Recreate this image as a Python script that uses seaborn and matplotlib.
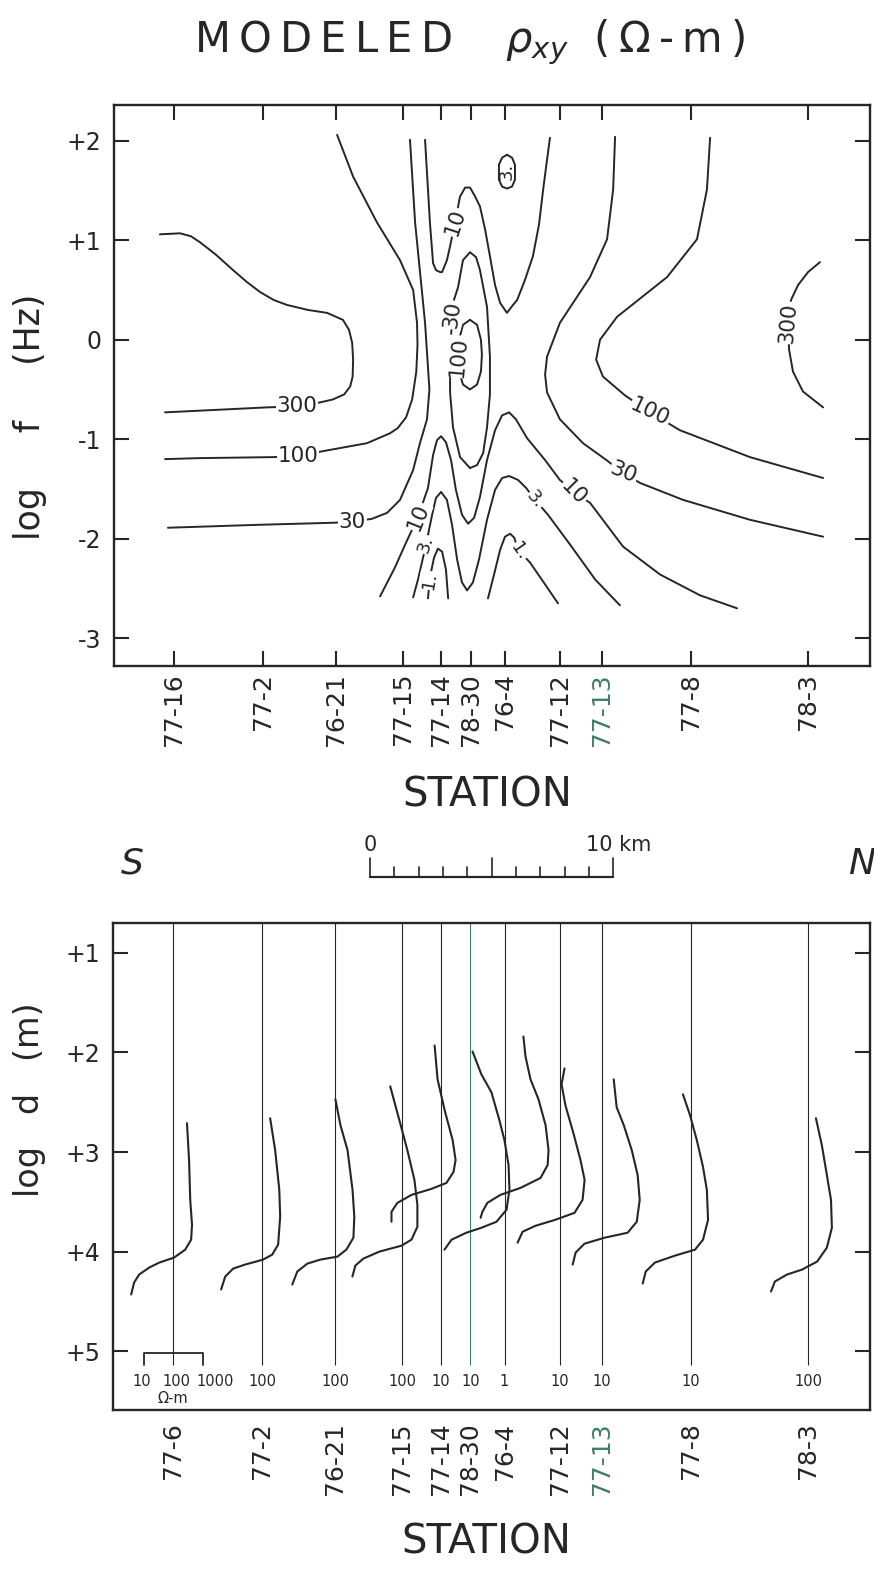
import numpy as np
import pandas as pd
import matplotlib
matplotlib.use("Agg")
import matplotlib.pyplot as plt
import matplotlib.transforms as mtransforms
import seaborn as sns

sns.set_style("ticks")
plt.rcParams["font.family"] = ["DejaVu Sans"]
plt.rcParams["mathtext.fontset"] = "dejavusans"

INK = "#262626"
GREEN = "#3f7f64"

# ---------------------------------------------------------------- stations
station_km = [0.0, 3.66, 6.67, 9.42, 10.99, 12.22, 13.62, 15.88, 17.61, 21.28, 26.09]
stations_top = ["77-16", "77-2", "76-21", "77-15", "77-14", "78-30", "76-4",
                "77-12", "77-13", "77-8", "78-3"]
stations_bottom = ["77-6", "77-2", "76-21", "77-15", "77-14", "78-30", "76-4",
                   "77-12", "77-13", "77-8", "78-3"]
green_station = "77-13"

# ---------------------------------------------- modeled rho_xy contours
# (distance km, log f Hz)
rho300_west = [(-0.58, 1.06), (0.25, 1.07), (0.70, 1.04), (1.07, 0.98), (1.70, 0.86),
               (2.43, 0.70), (3.00, 0.58), (3.54, 0.48), (4.10, 0.40), (4.65, 0.35),
               (5.50, 0.30), (6.30, 0.27), (6.95, 0.20), (7.20, 0.10), (7.33, -0.03),
               (7.37, -0.20), (7.35, -0.37), (7.25, -0.47), (7.00, -0.55), (6.54, -0.60),
               (6.01, -0.63), (5.06, -0.67), (3.83, -0.68), (-0.37, -0.73)]
rho100_west = [(6.71, 2.06), (7.37, 1.64), (8.35, 1.18), (9.30, 0.80), (9.84, 0.50),
               (10.00, 0.17), (10.02, -0.05), (9.97, -0.32), (9.80, -0.60), (9.55, -0.78),
               (9.20, -0.89), (8.89, -0.94), (7.94, -1.04), (6.13, -1.12), (5.10, -1.17),
               (4.07, -1.18), (1.07, -1.19), (-0.37, -1.20)]
rho30_west = [(9.71, 2.01), (9.92, 1.18), (10.33, 0.17), (10.51, -0.50), (10.41, -0.80),
              (10.12, -1.04), (9.84, -1.31), (9.30, -1.61), (8.77, -1.74), (8.15, -1.80),
              (7.33, -1.83), (6.54, -1.84), (3.54, -1.86), (-0.25, -1.89)]
rho10_north = [(10.33, 2.01), (10.53, 1.18), (10.66, 0.77), (10.78, 0.70), (10.95, 0.68),
               (11.03, 0.68), (11.23, 0.80), (11.36, 0.94), (11.56, 1.18), (11.77, 1.44),
               (11.98, 1.53), (12.18, 1.53), (12.39, 1.44), (12.59, 1.34), (12.80, 1.11),
               (13.00, 0.84), (13.21, 0.55), (13.42, 0.37), (13.70, 0.27), (13.95, 0.35),
               (14.12, 0.40), (14.44, 0.60), (14.77, 0.84), (15.02, 1.16), (15.19, 1.51),
               (15.35, 1.81), (15.47, 2.03)]
rho30_core = [(12.18, -1.29), (11.77, -1.18), (11.48, -0.88), (11.36, -0.53), (11.36, -0.20),
              (11.40, 0.05), (11.52, 0.40), (11.69, 0.53), (11.89, 0.80), (12.18, 0.88),
              (12.43, 0.83), (12.59, 0.70), (12.88, 0.33), (13.00, -0.17), (13.00, -0.55),
              (12.88, -0.88), (12.72, -1.14), (12.47, -1.26), (12.18, -1.29)]
rho100_core = [(12.18, 0.20), (12.47, 0.15), (12.63, 0.00), (12.67, -0.15), (12.63, -0.32),
               (12.47, -0.45), (12.18, -0.50), (11.89, -0.45), (11.73, -0.32), (11.69, -0.15),
               (11.73, 0.00), (11.89, 0.15), (12.18, 0.20)]
rho3_north = [(13.70, 1.86), (13.91, 1.83), (14.03, 1.76), (14.03, 1.61), (13.91, 1.54),
              (13.70, 1.52), (13.50, 1.54), (13.37, 1.61), (13.37, 1.76), (13.50, 1.83),
              (13.70, 1.86)]
rho10_south = [(8.48, -2.58), (9.09, -2.29), (9.51, -2.06), (10.04, -1.78), (10.45, -1.49),
               (10.66, -1.16), (10.82, -1.01), (10.99, -0.97), (11.19, -1.03), (11.40, -1.21),
               (11.60, -1.51), (11.85, -1.76), (12.10, -1.85), (12.35, -1.79), (12.59, -1.58),
               (12.88, -1.21), (13.21, -0.91), (13.50, -0.76), (13.79, -0.73), (14.07, -0.80),
               (14.53, -0.99), (15.27, -1.21), (15.88, -1.41), (16.46, -1.53), (17.12, -1.64),
               (18.48, -2.08), (20.00, -2.36), (21.65, -2.57), (23.17, -2.70)]
rho3_south = [(9.84, -2.59), (10.04, -2.41), (10.37, -2.06), (10.62, -1.76), (10.78, -1.59),
              (10.99, -1.53), (11.23, -1.61), (11.44, -1.86), (11.65, -2.21), (11.85, -2.44),
              (12.06, -2.52), (12.30, -2.44), (12.55, -2.21), (12.88, -1.81), (13.21, -1.51),
              (13.50, -1.39), (13.79, -1.37), (14.16, -1.41), (14.49, -1.49), (14.86, -1.61),
              (15.39, -1.76), (16.30, -2.06), (17.33, -2.41), (18.35, -2.67)]
rho1_west = [(10.45, -2.60), (10.53, -2.39), (10.70, -2.19), (10.86, -2.10), (11.03, -2.13),
             (11.19, -2.31), (11.28, -2.60)]
rho1_east = [(12.92, -2.60), (13.17, -2.36), (13.42, -2.11), (13.62, -1.98), (13.83, -1.95),
             (14.00, -1.99), (14.16, -2.11), (14.65, -2.24), (15.27, -2.46), (15.80, -2.65)]
rho30_east = [(18.15, 2.04), (18.07, 1.51), (17.82, 1.01), (17.12, 0.63), (15.88, 0.17),
              (15.35, -0.17), (15.27, -0.35), (15.35, -0.53), (15.88, -0.80), (16.83, -1.04),
              (17.74, -1.20), (18.44, -1.33), (19.18, -1.44), (20.95, -1.61), (23.70, -1.81),
              (26.71, -1.98)]
rho100_east = [(22.06, 2.03), (21.93, 1.51), (21.52, 1.01), (20.29, 0.63), (18.23, 0.23),
               (17.53, 0.00), (17.37, -0.20), (17.65, -0.37), (18.56, -0.56), (19.59, -0.73),
               (20.82, -0.91), (23.70, -1.18), (26.71, -1.39)]
rho300_east = [(26.58, 0.78), (26.09, 0.68), (25.68, 0.55), (25.39, 0.40), (25.27, 0.17),
               (25.31, -0.10), (25.47, -0.32), (25.88, -0.52), (26.71, -0.68)]

contour_paths = [rho300_west, rho100_west, rho30_west, rho10_north, rho30_core,
                 rho100_core, rho3_north, rho10_south, rho3_south, rho1_west,
                 rho1_east, rho30_east, rho100_east, rho300_east]

# level, km, log f, rotation, boxed
contour_labels = [(300, 5.06, -0.67, 0, True), (100, 5.10, -1.17, 0, True),
                  (30, 7.33, -1.83, 0, True), (10, 11.56, 1.18, 72, True),
                  (30, 11.44, 0.25, 82, True), (100, 11.72, -0.17, 85, True),
                  (3, 13.70, 1.69, 90, False), (10, 10.04, -1.78, 68, True),
                  (10, 16.46, -1.53, -45, True), (3, 10.37, -2.06, 72, True),
                  (3, 14.86, -1.61, -50, True), (1, 10.50, -2.42, 80, True),
                  (1, 14.20, -2.13, -55, True), (30, 18.50, -1.34, -22, True),
                  (100, 19.59, -0.73, -25, True), (300, 25.27, 0.17, 85, True)]

# ------------------------------------------- 1-D resistivity profiles
# reference resistivity (ohm-m) of each station's vertical line
ref_rho = [100, 100, 100, 100, 10, 10, 1, 10, 10, 10, 100]
key_labels = ["10", "100", "1000"]
# (log10 rho, log10 depth m)
prof_77_6 = [(2.47, 2.71), (2.54, 3.08), (2.58, 3.48), (2.64, 3.73), (2.61, 3.88),
             (2.41, 3.98), (2.03, 4.06), (1.53, 4.11), (1.19, 4.16), (0.85, 4.23),
             (0.68, 4.31), (0.58, 4.43)]
prof_77_2 = [(2.27, 2.66), (2.44, 2.98), (2.58, 3.38), (2.61, 3.65), (2.54, 3.93),
             (2.34, 4.03), (2.03, 4.08), (1.42, 4.13), (1.02, 4.17), (0.75, 4.25),
             (0.61, 4.38)]
prof_76_21 = [(2.00, 2.47), (2.17, 2.73), (2.41, 2.98), (2.58, 3.38), (2.64, 3.65),
              (2.61, 3.86), (2.37, 3.98), (2.07, 4.05), (1.49, 4.08), (1.05, 4.12),
              (0.71, 4.20), (0.54, 4.33)]
prof_77_15 = [(1.59, 2.34), (1.90, 2.68), (2.17, 2.98), (2.41, 3.28), (2.51, 3.53),
              (2.51, 3.75), (2.31, 3.88), (1.97, 3.94), (1.22, 4.00), (0.68, 4.07),
              (0.41, 4.14), (0.31, 4.25)]
prof_77_14 = [(0.80, 1.93), (0.90, 2.27), (1.14, 2.58), (1.41, 2.88), (1.51, 3.08),
              (1.44, 3.20), (1.20, 3.31), (0.69, 3.37), (0.02, 3.43), (-0.46, 3.51),
              (-0.66, 3.60), (-0.66, 3.70)]
prof_78_30 = [(1.07, 1.99), (1.37, 2.22), (1.71, 2.40), (1.98, 2.68), (2.15, 2.88),
              (2.29, 3.13), (2.32, 3.38), (2.22, 3.58), (1.88, 3.70), (1.37, 3.76),
              (0.86, 3.81), (0.36, 3.88), (0.12, 3.98)]
prof_76_4 = [(0.64, 1.84), (0.71, 2.04), (0.88, 2.27), (1.15, 2.47), (1.39, 2.73),
             (1.49, 2.98), (1.46, 3.13), (1.22, 3.26), (0.54, 3.36), (-0.14, 3.43),
             (-0.58, 3.51), (-0.75, 3.60), (-0.81, 3.66)]
prof_77_12 = [(1.17, 2.16), (1.07, 2.32), (1.20, 2.53), (1.47, 2.81), (1.71, 3.08),
              (1.85, 3.28), (1.78, 3.48), (1.51, 3.61), (0.86, 3.68), (0.19, 3.74),
              (-0.25, 3.80), (-0.42, 3.91)]
prof_77_13 = [(1.41, 2.27), (1.51, 2.55), (1.75, 2.73), (2.02, 2.98), (2.22, 3.23),
              (2.29, 3.48), (2.19, 3.70), (1.88, 3.81), (1.10, 3.86), (0.42, 3.92),
              (0.12, 4.01), (0.02, 4.13)]
prof_77_8 = [(0.73, 2.42), (0.97, 2.63), (1.20, 2.88), (1.41, 3.15), (1.54, 3.38),
             (1.58, 3.68), (1.41, 3.88), (1.14, 3.98), (0.46, 4.04), (-0.22, 4.11),
             (-0.53, 4.20), (-0.63, 4.32)]
prof_78_3 = [(2.27, 2.66), (2.47, 2.93), (2.64, 3.23), (2.78, 3.48), (2.81, 3.76),
             (2.64, 3.96), (2.31, 4.10), (1.80, 4.18), (1.29, 4.23), (0.88, 4.30),
             (0.75, 4.40)]
profiles = [prof_77_6, prof_77_2, prof_76_21, prof_77_15, prof_77_14, prof_78_30,
            prof_76_4, prof_77_12, prof_77_13, prof_77_8, prof_78_3]

# horizontal width of one resistivity decade, in km of profile
DECADE_KM = 1.214

# ---------------------------------------------------------------- layout
W, H = 874, 1569
fig = plt.figure(figsize=(W / 100, H / 100), dpi=100)


def box(l, t, r, b):
    return [l / W, 1 - b / H, (r - l) / W, (b - t) / H]


ax_f = fig.add_axes(box(114, 105, 870, 666))
ax_d = fig.add_axes(box(113, 923, 870, 1410))
XLIM = (-2.47, 28.64)
D_BOTTOM = 5.59          # log depth at the lower frame edge
LINE_END = 5.14          # station lines stop above the value row
ROW_Y = 5.30             # value row under each station line


def draw_path(ax, pts, color=INK, lw=1.4):
    df = pd.DataFrame(pts, columns=["x", "y"])
    sns.lineplot(data=df, x="x", y="y", sort=False, estimator=None,
                 color=color, lw=lw, ax=ax, solid_joinstyle="round",
                 solid_capstyle="round")


def level_text(level):
    return f"{level}" if level >= 10 else f"{level}."


# ---------------------------------------------------------- upper panel
for path in contour_paths:
    draw_path(ax_f, path)
for level, x, y, rot, boxed in contour_labels:
    kw = dict(bbox=dict(fc="white", ec="none", pad=0.6)) if boxed else {}
    ax_f.text(x, y, level_text(level), rotation=rot, ha="center", va="center",
              rotation_mode="anchor", fontsize=15.5 if level >= 10 else 13,
              color=INK, zorder=5, **kw)

ax_f.set_xlim(*XLIM)
ax_f.set_ylim(-3.28, 2.36)
ax_f.set_xticks(station_km)
ax_f.set_xticklabels(stations_top, rotation=90, fontsize=18, color=INK)
ax_f.set_yticks([2, 1, 0, -1, -2, -3])
ax_f.set_yticklabels(["+2", "+1", "0", "-1", "-2", "-3"], fontsize=17, color=INK)
ax_f.tick_params(axis="both", direction="in", length=11, width=1.5,
                 top=True, right=True, colors=INK)
ax_f.tick_params(axis="x", pad=5)
ax_f.tick_params(axis="y", pad=9)
ax_f.set_xlabel("")
ax_f.set_ylabel("")

# ---------------------------------------------------------- lower panel
for km, name in zip(station_km, stations_bottom):
    ax_d.vlines(km, 0.70, LINE_END, color=GREEN if name == "78-30" else INK, lw=0.8)
for km, ref, prof in zip(station_km, ref_rho, profiles):
    pts = [(km + (lr - np.log10(ref)) * DECADE_KM, ld) for lr, ld in prof]
    draw_path(ax_d, pts, lw=1.5)
for i, (km, ref) in enumerate(zip(station_km, ref_rho)):
    if i == 0:
        # resistivity scale key on the first station
        lo, hi = km - DECADE_KM, km + DECADE_KM
        ax_d.plot([lo, lo, hi, hi], [LINE_END, LINE_END - 0.12, LINE_END - 0.12, LINE_END],
                  color=INK, lw=1.3)
        for dx, txt in zip((-1.27, 0.12, 1.73), key_labels):
            ax_d.text(km + dx, ROW_Y, txt, ha="center", va="center",
                      fontsize=10.5, color=INK)
        ax_d.text(km, ROW_Y + 0.17, "Ω-m", ha="center", va="center", fontsize=10.5,
                  color=INK)
    else:
        ax_d.text(km, ROW_Y, f"{ref}", ha="center", va="center",
                  fontsize=10.5, color=INK)

ax_d.set_xlim(*XLIM)
ax_d.set_ylim(D_BOTTOM, 0.70)
ax_d.set_xticks(station_km)
ax_d.set_xticklabels(stations_bottom, rotation=90, fontsize=18, color=INK)
ax_d.set_yticks([1, 2, 3, 4, 5])
ax_d.set_yticklabels(["+1", "+2", "+3", "+4", "+5"], fontsize=17, color=INK)
ax_d.tick_params(axis="y", direction="in", length=11, width=1.5, right=True,
                 pad=9, colors=INK)
ax_d.tick_params(axis="x", length=0, pad=9, colors=INK)
ax_d.set_xlabel("")
ax_d.set_ylabel("")

for ax in (ax_f, ax_d):
    for s in ax.spines.values():
        s.set_linewidth(1.7)
        s.set_color(INK)
    for lab in ax.get_xticklabels():
        if lab.get_text() == green_station:
            lab.set_color(GREEN)

# ---------------------------------------------------------------- text
fig.text(470 / W, 1 - 42 / H,
         "M\u2009O\u2009D\u2009E\u2009L\u2009E\u2009D    $\\rho_{xy}$  (\u2009Ω\u2009-\u2009m\u2009)",
         ha="center", va="center", fontsize=30, color=INK)
fig.text(30 / W, 1 - 417 / H, "log     f     (Hz)", rotation=90, ha="center",
         va="center", fontsize=25, color=INK)
fig.text(30 / W, 1 - 1100 / H, "log   d   (m)", rotation=90, ha="center",
         va="center", fontsize=24, color=INK)
fig.text(487 / W, 1 - 795 / H, "STATION", ha="center", va="center",
         fontsize=29, color=INK)
fig.text(486 / W, 1 - 1543 / H, "STATION", ha="center", va="center",
         fontsize=29, color=INK)
fig.text(132 / W, 1 - 864 / H, "S", ha="center", va="center", fontsize=26,
         style="italic", color=INK)
fig.text(862 / W, 1 - 864 / H, "N", ha="center", va="center", fontsize=26,
         style="italic", color=INK)

# distance scale bar, sharing the profile's km axis
tr = mtransforms.blended_transform_factory(ax_f.transData, fig.transFigure)
bar0, bar_y = 8.07, 1 - 877 / H
ax_f.plot([bar0, bar0 + 10], [bar_y, bar_y], transform=tr, color=INK, lw=1.6,
          clip_on=False)
for k in range(11):
    h = (19 if k in (0, 5, 10) else 10) / H
    ax_f.plot([bar0 + k, bar0 + k], [bar_y, bar_y + h], transform=tr, color=INK,
              lw=1.2, clip_on=False)
ax_f.text(bar0, 1 - 845 / H, "0", transform=tr, ha="center", va="center",
          fontsize=15, color=INK, clip_on=False)
ax_f.text(bar0 + 8.9, 1 - 845 / H, "10 km", transform=tr, ha="left", va="center",
          fontsize=15, color=INK, clip_on=False)

fig.savefig("out.png", dpi=100, facecolor="white")
